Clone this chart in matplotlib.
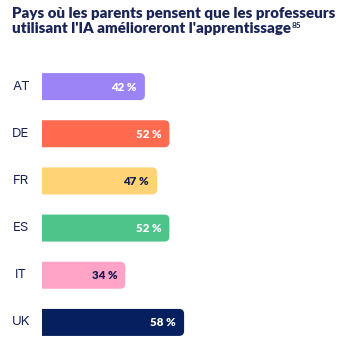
import numpy as np
import matplotlib
matplotlib.use('Agg')
import matplotlib.pyplot as plt
from matplotlib.patches import PathPatch
from matplotlib.path import Path

# ── Données ──────────────────────────────────────────────────────────────────
pays    = ['AT', 'DE', 'FR', 'ES', 'IT', 'UK']
valeurs = [42, 52, 47, 52, 34, 58]
couleurs = ['#9d84f6', '#fe6b4e', '#ffd376', '#4ec48b', '#ffa4c7', '#061f5f']
txt_col  = ['white', 'white', '#0f1d4f', 'white', '#0f1d4f', 'white']
navy = '#1a2456'

W, H = 341, 348
fig = plt.figure(figsize=(W / 100, H / 100), dpi=100)
fig.patch.set_facecolor('white')

# axes en pixels : x de 42 à 341, y de 63 à 346
px_per_unit_x = 2.45
left, top, bottom = 42, 63, 346
ax = fig.add_axes([left / W, 1 - bottom / H, (W - left) / W, (bottom - top) / H])
xmax = (W - left) / px_per_unit_x
ax.set_xlim(0, xmax)
ax.set_ylim(len(pays) - 0.5, -0.5)
ax.axis('off')
px_per_unit_y = (bottom - top) / len(pays)

bh = 27 / px_per_unit_y
rx = 5 / px_per_unit_x
ry = 5 / px_per_unit_y


def barre(x1, y0, y1):
    """Barre à gauche carrée, coins droits arrondis."""
    verts = [(0, y0), (x1 - rx, y0), (x1, y0), (x1, y0 + ry),
             (x1, y1 - ry), (x1, y1), (x1 - rx, y1), (0, y1), (0, y0)]
    codes = [Path.MOVETO, Path.LINETO, Path.CURVE3, Path.CURVE3,
             Path.LINETO, Path.CURVE3, Path.CURVE3, Path.LINETO, Path.CLOSEPOLY]
    return Path(verts, codes)


for i, (p, v, c, tc) in enumerate(zip(pays, valeurs, couleurs, txt_col)):
    ax.add_patch(PathPatch(barre(v, i - bh / 2, i + bh / 2), fc=c, ec='none'))
    ax.text(v - 8 / px_per_unit_x, i + 0.01, f"{v} %", ha='right', va='center',
            fontsize=8.3, fontweight='heavy', family='Lato', color=tc)
    ax.text(-21 / px_per_unit_x, i, p, ha='center', va='center',
            fontsize=9.5, family='Inter', color=navy, clip_on=False)

# ── Titre ────────────────────────────────────────────────────────────────────
t1 = fig.text(12 / W, 1 - 18 / H, "Pays où les parents pensent que les professeurs",
              ha='left', va='baseline', fontsize=9, fontweight='heavy',
              family='Lato', color=navy)
fig.canvas.draw()
w1 = t1.get_window_extent().width
fs = 9 * 321 / w1
t1.set_fontsize(fs)
t2 = fig.text(12 / W, 1 - 33 / H, "utilisant l'IA amélioreront l'apprentissage",
              ha='left', va='baseline', fontsize=fs, fontweight='heavy',
              family='Lato', color=navy)
fig.canvas.draw()
bb = t2.get_window_extent()
fig.text(bb.x1 / W + 1 / W, 1 - 27.5 / H, "85", ha='left', va='baseline',
         fontsize=fs * 0.55, fontweight='bold', family='Lato', color=navy)

plt.savefig('out.png', dpi=100, facecolor='white')
